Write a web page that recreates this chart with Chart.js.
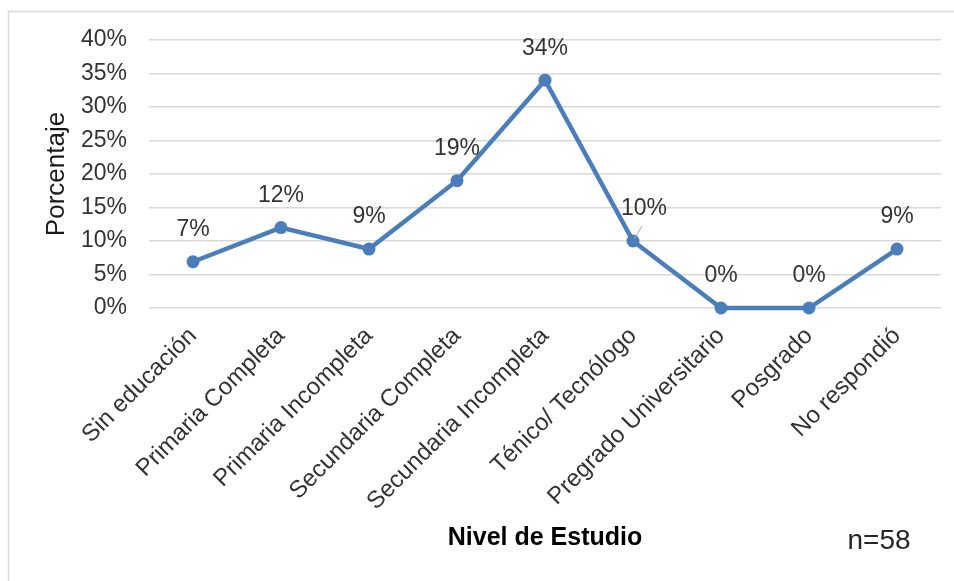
<!DOCTYPE html>
<html>
<head>
<meta charset="utf-8">
<script src="https://cdn.jsdelivr.net/npm/chart.js@4.4.1/dist/chart.umd.min.js"></script>
<style>
  html, body { margin: 0; padding: 0; background: #ffffff; }
  #wrap { width: 954px; height: 581px; position: relative; }
</style>
</head>
<body>
<div id="wrap"><canvas id="c"></canvas></div>
<script>
const categories = ["Sin educación", "Primaria Completa", "Primaria Incompleta", "Secundaria Completa", "Secundaria Incompleta", "Ténico/ Tecnólogo", "Pregrado Universitario", "Posgrado", "No respondió"];
const values = [6.9, 12, 8.8, 19, 34, 10, 0, 0, 8.8];
const valueLabels = ["7%", "12%", "9%", "19%", "34%", "10%", "0%", "0%", "9%"];
const yTitle = "Porcentaje";
const xTitle = "Nivel de Estudio";
const note = "n=58";

const FONT = "'Liberation Sans', Arial, sans-serif";

const framePlugin = {
  id: 'frame',
  beforeDraw(chart) {
    const ctx = chart.ctx;
    ctx.save();
    ctx.strokeStyle = '#d9d9d9';
    ctx.lineWidth = 1.5;
    ctx.beginPath();
    ctx.moveTo(8.5, chart.height);
    ctx.lineTo(8.5, 11.5);
    ctx.lineTo(chart.width, 11.5);
    ctx.stroke();
    ctx.restore();
  },
  afterDraw(chart) {
    const ctx = chart.ctx;
    ctx.save();
    ctx.font = '28px ' + FONT;
    ctx.fillStyle = '#262626';
    ctx.textAlign = 'center';
    ctx.textBaseline = 'middle';
    ctx.fillText(note, 879, 541);
    ctx.restore();
  }
};

const labelPlugin = {
  id: 'pointLabels',
  afterDatasetsDraw(chart) {
    const ctx = chart.ctx;
    const meta = chart.getDatasetMeta(0);
    ctx.save();
    ctx.font = '23px ' + FONT;
    ctx.fillStyle = '#333333';
    ctx.textAlign = 'center';
    ctx.textBaseline = 'middle';
    meta.data.forEach((pt, i) => {
      let dx = 0;
      if (i === 5) {
        dx = 11;
        ctx.save();
        ctx.strokeStyle = '#a6a6a6';
        ctx.lineWidth = 1;
        ctx.beginPath();
        ctx.moveTo(pt.x + 1, pt.y - 2);
        ctx.lineTo(pt.x + 9, pt.y - 15);
        ctx.stroke();
        ctx.restore();
      }
      ctx.fillText(valueLabels[i], pt.x + dx, pt.y - 32);
    });
    ctx.restore();
  }
};

new Chart(document.getElementById('c'), {
  type: 'line',
  data: {
    labels: categories,
    datasets: [{
      data: values,
      borderColor: '#4a7ebb',
      backgroundColor: '#4a7ebb',
      borderWidth: 4.5,
      pointRadius: 6.5,
      pointBackgroundColor: '#4a7ebb',
      pointBorderColor: '#4a7ebb',
      pointBorderWidth: 0,
      tension: 0,
      fill: false,
      clip: false
    }]
  },
  options: {
    responsive: true,
    maintainAspectRatio: false,
    animation: false,
    layout: { padding: { top: 40, right: 13, bottom: 0, left: 0 } },
    plugins: {
      legend: { display: false },
      tooltip: { enabled: false },
      title: { display: false }
    },
    scales: {
      x: {
        type: 'category',
        offset: true,
        grid: { display: false, drawTicks: false },
        border: { display: false },
        ticks: {
          autoSkip: false,
          minRotation: 45,
          maxRotation: 45,
          padding: 14,
          color: '#333333',
          font: { family: FONT, size: 24 }
        },
        title: {
          display: true,
          text: xTitle,
          color: '#000000',
          font: { family: FONT, size: 25, weight: 'bold' },
          padding: { top: 0, bottom: 28 }
        },
        afterFit(scale) { scale.height = 581 - 308; }
      },
      y: {
        min: 0,
        max: 40,
        grid: { color: '#d9d9d9', lineWidth: 1.5, drawTicks: false },
        border: { display: false },
        ticks: {
          stepSize: 5,
          padding: 22,
          color: '#333333',
          font: { family: FONT, size: 23 },
          callback: (v) => v + '%'
        },
        title: {
          display: true,
          text: yTitle,
          color: '#1a1a1a',
          font: { family: FONT, size: 26 },
          padding: { top: 41, bottom: 0 }
        },
        afterFit(scale) { scale.width = 149; }
      }
    }
  },
  plugins: [framePlugin, labelPlugin]
});
</script>
</body>
</html>
